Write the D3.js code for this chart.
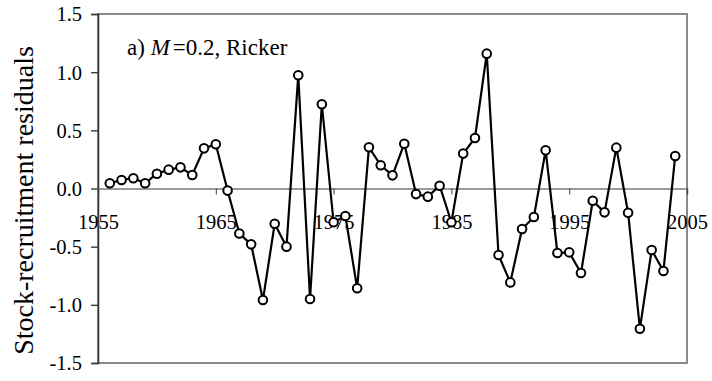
<!DOCTYPE html>
<html>
<head>
<meta charset="utf-8">
<script src="https://cdn.jsdelivr.net/npm/d3@7"></script>
<style>
  html, body { margin: 0; padding: 0; background: #fff; }
  svg { display: block; }
</style>
</head>
<body>
<svg id="chart" width="712" height="381"></svg>
<script>
// Stock-recruitment residuals by year (M = 0.2, Ricker model)
const years = d3.range(1956, 2005);
const residuals = [
  0.045, 0.073, 0.088, 0.045, 0.127, 0.162, 0.182, 0.116, 0.345, 0.380,
  -0.018, -0.387, -0.480, -0.959, -0.303, -0.500, 0.973, -0.950, 0.724, -0.290,
  -0.236, -0.858, 0.354, 0.200, 0.113, 0.385, -0.048, -0.070, 0.024, -0.290,
  0.300, 0.434, 1.159, -0.572, -0.807, -0.348, -0.245, 0.328, -0.555, -0.549,
  -0.727, -0.105, -0.205, 0.351, -0.208, -1.205, -0.529, -0.709, 0.280
];
const xTicks = [1955, 1965, 1975, 1985, 1995, 2005];
const yTicks = [-1.5, -1.0, -0.5, 0.0, 0.5, 1.0, 1.5];
const yTitle = "Stock-recruitment residuals";

const FONT = "'Liberation Serif', serif";
const svg = d3.select("#chart");
const plot = { left: 98, right: 687, top: 14, bottom: 363 };

const x = d3.scaleLinear().domain([1955, 2005]).range([plot.left, plot.right]);
const y = d3.scaleLinear().domain([-1.5, 1.5]).range([plot.bottom, plot.top]);

// plot frame
svg.append("rect")
  .attr("x", plot.left).attr("y", plot.top)
  .attr("width", plot.right - plot.left).attr("height", plot.bottom - plot.top)
  .attr("fill", "#fff").attr("stroke", "#8a8a8a").attr("stroke-width", 2);

// y axis on the left edge
const yAxis = d3.axisLeft(y).tickValues(yTicks).tickSize(7).tickPadding(9)
  .tickFormat(d => d3.format(".1f")(d).replace("−", "-"));
const gy = svg.append("g").attr("transform", `translate(${plot.left},0)`).call(yAxis);
gy.select(".domain").attr("stroke", "#3a3a3a").attr("stroke-width", 1.6);
gy.selectAll(".tick line").attr("stroke", "#3a3a3a").attr("stroke-width", 1.4);
gy.selectAll(".tick text").attr("dy", "0.34em").attr("fill", "#000")
  .style("font-family", FONT).style("font-size", "20.5px");

// x axis drawn along zero
const xAxis = d3.axisBottom(x).tickValues(xTicks).tickSize(6).tickPadding(20)
  .tickFormat(d3.format("d"));
const gx = svg.append("g").attr("transform", `translate(0,${y(0)})`).call(xAxis);
gx.select(".domain").attr("stroke", "#7a7a7a").attr("stroke-width", 1.6);
gx.selectAll(".tick line").attr("stroke", "#3a3a3a").attr("stroke-width", 1);
gx.selectAll(".tick text").attr("fill", "#000")
  .style("font-family", FONT).style("font-size", "20.5px");

// residual series
const pts = years.map((yr, i) => [yr, residuals[i]]);
svg.append("path")
  .datum(pts)
  .attr("fill", "none").attr("stroke", "#000").attr("stroke-width", 2.2)
  .attr("stroke-linejoin", "round")
  .attr("d", d3.line().x(d => x(d[0])).y(d => y(d[1])));

svg.append("g").selectAll("circle")
  .data(pts).join("circle")
  .attr("cx", d => x(d[0])).attr("cy", d => y(d[1])).attr("r", 4.3)
  .attr("fill", "#fff").attr("stroke", "#000").attr("stroke-width", 2);

// panel annotation
const ann = svg.append("text").attr("x", 127).attr("y", 55)
  .style("font-family", FONT).style("font-size", "23px");
ann.append("tspan").text("a) ");
ann.append("tspan").style("font-style", "italic").text("M");
ann.append("tspan").attr("dx", 3).text("=0.2, Ricker");

// y axis title
svg.append("text")
  .attr("transform", "translate(33,200.5) rotate(-90)")
  .attr("text-anchor", "middle")
  .style("font-family", FONT).style("font-size", "28px")
  .text(yTitle);
</script>
</body>
</html>
